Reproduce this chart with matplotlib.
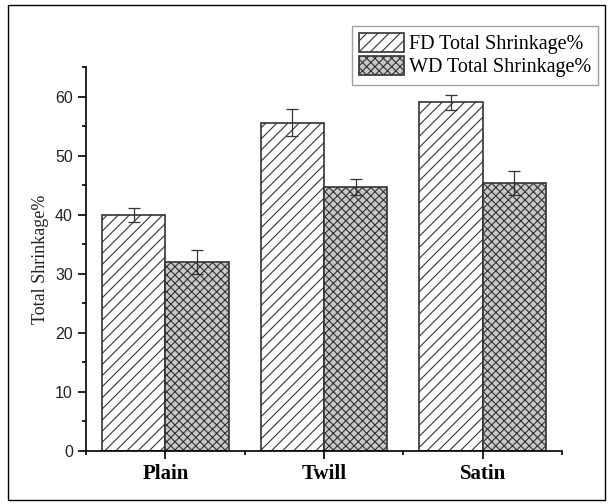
import matplotlib.pyplot as plt
from matplotlib.patches import Rectangle
from matplotlib.ticker import MultipleLocator, FixedLocator

categories = ['Plain', 'Twill', 'Satin']
fd_values = [40.0, 55.6, 59.0]
fd_errors = [1.2, 2.3, 1.2]
wd_values = [32.0, 44.7, 45.4]
wd_errors = [2.0, 1.4, 2.0]

plt.rcParams['hatch.linewidth'] = 0.8

fig = plt.figure(figsize=(6.11, 5.04), dpi=100)
# outer frame around the whole picture
fig.patches.append(Rectangle((8 / 611, 4 / 504), 597 / 611, 495 / 504,
                             transform=fig.transFigure, fill=False,
                             edgecolor='black', linewidth=1.0))

ax = fig.add_axes([86 / 611, 53 / 504, 476 / 611, 384 / 504])

x = [1, 2, 3]
w = 0.4
fd_x = [i - w / 2 for i in x]
wd_x = [i + w / 2 for i in x]

ax.bar(fd_x, fd_values, width=w, facecolor='white', edgecolor='#333333',
       hatch='///', linewidth=1.2, label='FD Total Shrinkage%')
ax.bar(wd_x, wd_values, width=w, facecolor='#c8c8c8', edgecolor='#333333',
       hatch='xxxx', linewidth=1.2, label='WD Total Shrinkage%')
ax.errorbar(fd_x, fd_values, yerr=fd_errors, fmt='none', ecolor='#333333',
            elinewidth=0.9, capsize=4, capthick=0.9)
ax.errorbar(wd_x, wd_values, yerr=wd_errors, fmt='none', ecolor='#333333',
            elinewidth=0.9, capsize=4, capthick=0.9)

ax.set_xlim(0.5, 3.5)
ax.set_ylim(0, 65)
ax.spines['top'].set_visible(False)
ax.spines['right'].set_visible(False)
ax.spines['left'].set_linewidth(1.2)
ax.spines['bottom'].set_linewidth(1.2)

ax.set_xticks(x)
ax.set_xticklabels(categories, fontfamily='Liberation Serif',
                   fontweight='bold', fontsize=15)
ax.xaxis.set_minor_locator(FixedLocator([0.5, 1.5, 2.5, 3.5]))
ax.yaxis.set_major_locator(MultipleLocator(10))
ax.yaxis.set_minor_locator(MultipleLocator(5))
ax.tick_params(which='major', direction='out', length=6, width=1.2)
ax.tick_params(which='minor', direction='out', length=3, width=1.2)
for lab in ax.get_yticklabels():
    lab.set_fontfamily('Liberation Sans')
    lab.set_fontsize(11.5)
    lab.set_color('#222222')

ax.set_ylabel('Total Shrinkage%', fontfamily='Liberation Serif',
              fontsize=13, color='#222222', labelpad=4)

leg = fig.legend(loc='upper right', bbox_to_anchor=(598 / 611, 1 - 26 / 504),
                 prop={'family': 'Liberation Serif', 'size': 14.5},
                 frameon=True, fancybox=False, edgecolor='#888888',
                 handlelength=2.2, handleheight=1.05, handletextpad=0.25,
                 labelspacing=0.1, borderpad=0.35, borderaxespad=0)
leg.get_frame().set_linewidth(1.0)

fig.savefig('out.png', dpi=100)
